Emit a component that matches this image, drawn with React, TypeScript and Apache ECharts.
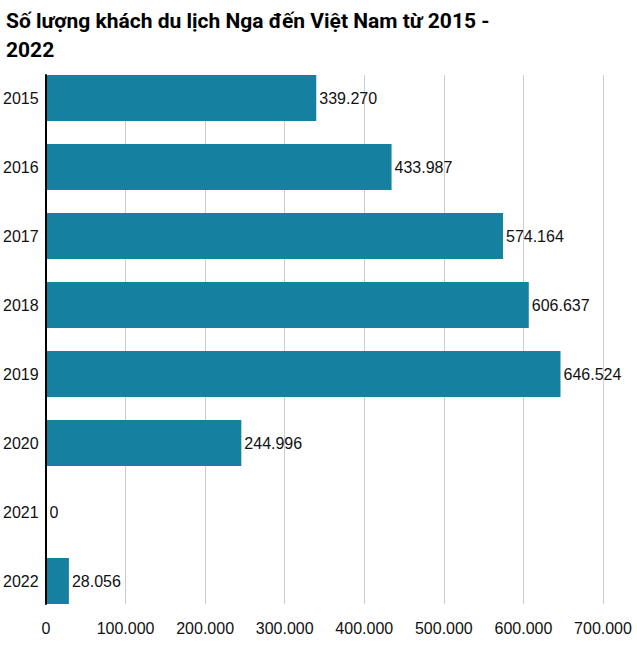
import React, { useEffect, useRef } from "react";
import * as echarts from "echarts";

const years = ["2015", "2016", "2017", "2018", "2019", "2020", "2021", "2022"];
const visitors = [339270, 433987, 574164, 606637, 646524, 244996, 0, 28056];
const xTicks = [0, 100000, 200000, 300000, 400000, 500000, 600000, 700000];
const titleText = "Số lượng khách du lịch Nga đến Việt Nam từ 2015 -\n2022";

const fmt = (v: number) => String(Math.round(v)).replace(/\B(?=(\d{3})+(?!\d))/g, ".");

export default function App() {
  const ref = useRef<HTMLDivElement>(null);
  useEffect(() => {
    document.body.style.margin = "0";
    const chart = echarts.init(ref.current!, null, { renderer: "svg" });
    const font = "Liberation Sans, Arial, sans-serif";
    chart.setOption({
      animation: false,
      backgroundColor: "#ffffff",
      title: {
        text: titleText,
        left: 1,
        top: 1,
        textStyle: { fontFamily: "Roboto, sans-serif", fontWeight: "bold", fontSize: 21, color: "#000", lineHeight: 29 },
      },
      grid: [
        { left: 46, right: 34, top: 63.5, height: 552 },
        { left: 46, right: 34, top: 75, height: 529 },
      ],
      xAxis: [
        { gridIndex: 0, type: "value", min: 0, max: xTicks[xTicks.length - 1], interval: 100000, show: false },
        {
          gridIndex: 1,
          type: "value",
          min: 0,
          max: xTicks[xTicks.length - 1],
          interval: 100000,
          axisLine: { show: false },
          axisTick: { show: false },
          splitLine: { show: true, lineStyle: { color: "#cccccc", width: 1 } },
          axisLabel: { fontFamily: font, fontSize: 16, color: "#111", margin: 16, formatter: (v: number) => fmt(v) },
        },
      ],
      yAxis: [
        {
          gridIndex: 0,
          type: "category",
          inverse: true,
          data: years,
          axisLine: { show: false },
          axisTick: { show: false },
          axisLabel: { fontFamily: font, fontSize: 16, color: "#111", margin: 8 },
        },
        {
          gridIndex: 1,
          type: "category",
          inverse: true,
          data: years,
          z: 10,
          axisLine: { show: true, lineStyle: { color: "#000", width: 2 } },
          axisTick: { show: false },
          axisLabel: { show: false },
          splitLine: { show: false },
        },
      ],
      series: [
        {
          type: "bar",
          xAxisIndex: 0,
          yAxisIndex: 0,
          data: visitors,
          barWidth: 46,
          itemStyle: { color: "#1680a0" },
          label: {
            show: true,
            position: "right",
            distance: 3,
            fontFamily: font,
            fontSize: 16,
            color: "#111",
            formatter: (p: any) => fmt(p.value),
          },
        },
      ],
    });
    return () => chart.dispose();
  }, []);
  return <div ref={ref} style={{ width: 637, height: 655 }} />;
}
